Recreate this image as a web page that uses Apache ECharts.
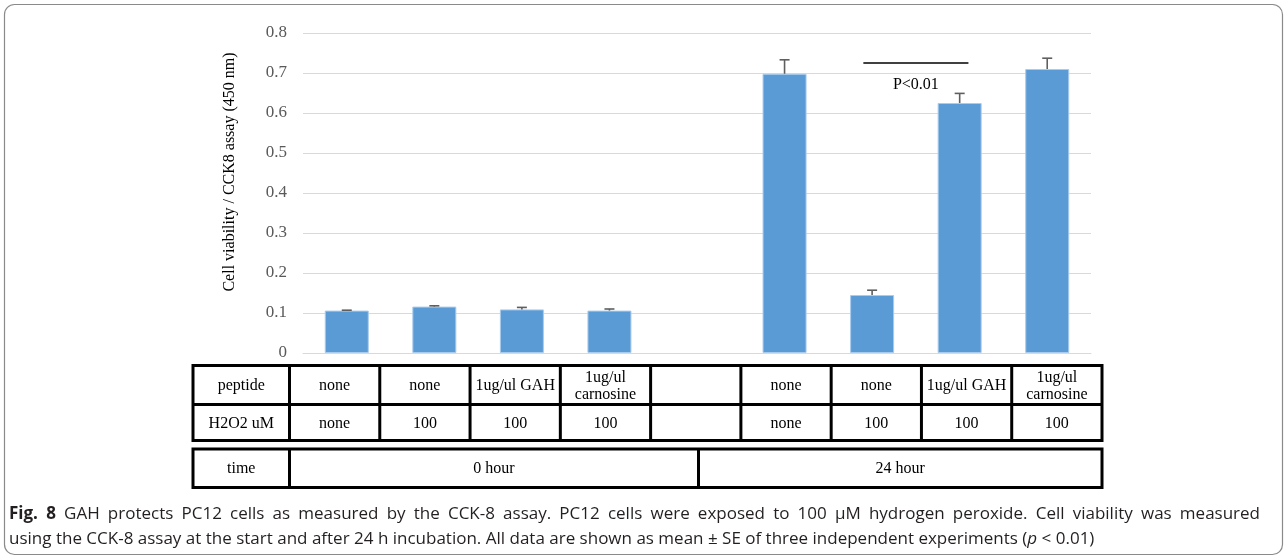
<!DOCTYPE html>
<html><head><meta charset="utf-8">
<script src="https://cdn.jsdelivr.net/npm/echarts@6/dist/echarts.min.js"></script>
<style>html,body{margin:0;padding:0;background:#fff}#c{width:1287px;height:559px}</style>
</head><body><div id="c"></div>
<script>
// ---------- data ----------
const categories = ['0h none/none', '0h none/100', '0h GAH/100', '0h carnosine/100', '', '24h none/none', '24h none/100', '24h GAH/100', '24h carnosine/100'];
const viability = [0.106, 0.116, 0.109, 0.106, null, 0.698, 0.145, 0.625, 0.710];
const stdErr = [0.001, 0.002, 0.005, 0.004, null, 0.035, 0.012, 0.024, 0.027];
const yMin = 0, yMax = 0.8, yStep = 0.1;
const yTitle = 'Cell viability / CCK8 assay (450 nm)';
const rowHeaders = ['peptide', 'H2O2 uM', 'time'];
const peptideRow = ['none', 'none', '1ug/ul GAH', '1ug/ul\ncarnosine', '', 'none', 'none', '1ug/ul GAH', '1ug/ul\ncarnosine'];
const h2o2Row = ['none', '100', '100', '100', '', 'none', '100', '100', '100'];
const timeRow = ['0 hour', '24 hour'];
const sigPair = [6, 7];
const sigLevel = 0.725;
const sigText = 'P<0.01';
const sigTextLevel = 0.671;
const captionBold = 'Fig. 8';
const captionLine1 = 'GAH protects PC12 cells as measured by the CCK-8 assay. PC12 cells were exposed to 100 \u03bcM hydrogen peroxide. Cell viability was measured';
const captionLine2a = 'using the CCK-8 assay at the start and after 24 h incubation. All data are shown as mean \u00b1 SE of three independent experiments (';
const captionItalic = 'p';
const captionLine2b = ' < 0.01)';

// ---------- layout / style ----------
const SERIF = '"Liberation Serif", "Times New Roman", serif';
const SANS = '"Open Sans", "Noto Sans", sans-serif';
const CAP_COLOR = '#231f20';
const CAP_FS = 17;
const CAP_X0 = 9, CAP_X1 = 1260;
const T = { left: 193, head: 289.5, right: 1102, y0: 365.5, y1: 404.5, y2: 440.5, y3: 449, y4: 487.5, mid: 698.5 };

const chart = echarts.init(document.getElementById('c'), null, { renderer: 'canvas' });

const graphics = [];
// outer frame
graphics.push({ type: 'rect', shape: { x: 4.5, y: 4.5, width: 1278, height: 550, r: 10 }, style: { fill: 'none', stroke: '#8a8a8a', lineWidth: 1.2 }, silent: true });
// y title
graphics.push({ type: 'text', x: 230, y: 172, rotation: Math.PI / 2, style: { text: yTitle, fontSize: 16, fontFamily: SERIF, fill: '#000', align: 'center', verticalAlign: 'middle' } });
// table
const nCol = peptideRow.length;
const colW = (T.right - T.head) / nCol;
const LS = { fill: 'none', stroke: '#000', lineWidth: 3 };
graphics.push({ type: 'rect', shape: { x: T.left, y: T.y0, width: T.right - T.left, height: T.y2 - T.y0 }, style: LS });
graphics.push({ type: 'line', shape: { x1: T.left, y1: T.y1, x2: T.right, y2: T.y1 }, style: LS });
for (let k = 0; k < nCol; k++) {
  const x = T.head + k * colW;
  graphics.push({ type: 'line', shape: { x1: x, y1: T.y0, x2: x, y2: T.y2 }, style: LS });
}
graphics.push({ type: 'rect', shape: { x: T.left, y: T.y3, width: T.right - T.left, height: T.y4 - T.y3 }, style: LS });
graphics.push({ type: 'line', shape: { x1: T.head, y1: T.y3, x2: T.head, y2: T.y4 }, style: LS });
graphics.push({ type: 'line', shape: { x1: T.mid, y1: T.y3, x2: T.mid, y2: T.y4 }, style: LS });
function cell(txt, cx, cy) {
  graphics.push({ type: 'text', x: cx, y: cy, style: { text: txt, fontSize: 16, fontFamily: SERIF, fill: '#000', align: 'center', verticalAlign: 'middle', lineHeight: 17 } });
}
const hx = (T.left + T.head) / 2;
const r1 = (T.y0 + T.y1) / 2 + 1, r2 = (T.y1 + T.y2) / 2 + 1, r3 = (T.y3 + T.y4) / 2 + 1;
cell(rowHeaders[0], hx, r1); cell(rowHeaders[1], hx, r2); cell(rowHeaders[2], hx, r3);
for (let k = 0; k < nCol; k++) {
  const cx = T.head + (k + 0.5) * colW;
  cell(peptideRow[k], cx, r1);
  cell(h2o2Row[k], cx, r2);
}
cell(timeRow[0], (T.head + T.mid) / 2, r3);
cell(timeRow[1], (T.mid + T.right) / 2, r3);

// caption line 1: justified word by word
const cv = document.createElement('canvas').getContext('2d');
function measure(txt, bold) { cv.font = (bold ? 'bold ' : '') + CAP_FS + 'px ' + SANS; return cv.measureText(txt).width; }
const words1 = captionBold.split(' ').map(t => ({ t, b: true })).concat(captionLine1.split(' ').map(t => ({ t, b: false })));
const sumW = words1.reduce((s, w) => s + measure(w.t, w.b), 0);
const gap = (CAP_X1 - CAP_X0 - sumW) / (words1.length - 1);
let cx1 = CAP_X0;
words1.forEach(w => {
  graphics.push({ type: 'text', x: cx1, y: 514, style: { text: w.t, fontSize: CAP_FS, fontFamily: SANS, fontWeight: w.b ? 'bold' : 'normal', fill: CAP_COLOR, align: 'left', verticalAlign: 'middle' } });
  cx1 += measure(w.t, w.b) + gap;
});
// caption line 2
graphics.push({ type: 'text', x: CAP_X0, y: 539, style: {
  text: '{n|' + captionLine2a + '}{i|' + captionItalic + '}{n|' + captionLine2b + '}', fill: CAP_COLOR, verticalAlign: 'middle', align: 'left',
  rich: {
    i: { fontStyle: 'italic', fontSize: CAP_FS, fontFamily: SANS, fill: CAP_COLOR },
    n: { fontSize: CAP_FS, fontFamily: SANS, fill: CAP_COLOR }
  } } });

const barData = viability.map(v => v == null ? '-' : v);
const errData = viability.map((v, i) => v == null ? null : [i, v, stdErr[i]]).filter(d => d);

chart.setOption({
  animation: false,
  backgroundColor: '#fff',
  grid: { left: 303, right: 196, top: 33, height: 320 },
  xAxis: {
    type: 'category', data: categories,
    axisLabel: { show: false }, axisTick: { show: false },
    axisLine: { show: true, lineStyle: { color: '#d9d9d9', width: 1 } }
  },
  yAxis: {
    type: 'value', min: yMin, max: yMax, interval: yStep,
    axisLine: { show: false }, axisTick: { show: false },
    axisLabel: { color: '#595959', fontFamily: SERIF, fontSize: 17, margin: 16, formatter: v => v === 0 ? '0' : v.toFixed(1) },
    splitLine: { lineStyle: { color: '#d9d9d9', width: 1 } }
  },
  series: [
    {
      type: 'bar', data: barData, barWidth: 44,
      itemStyle: { color: '#5b9bd5', borderColor: '#a9cbec', borderWidth: 1 }
    },
    {
      type: 'custom', data: errData, encode: { x: 0, y: 1 }, z: 3,
      renderItem: function (params, api) {
        const x = api.value(0), v = api.value(1), e = api.value(2);
        const p0 = api.coord([x, v]), p1 = api.coord([x, v + e]);
        const hw = 5;
        const st = { stroke: '#5f5f5f', lineWidth: 1.6 };
        return { type: 'group', children: [
          { type: 'line', shape: { x1: p0[0], y1: p0[1], x2: p1[0], y2: p1[1] }, style: st },
          { type: 'line', shape: { x1: p1[0] - hw, y1: p1[1], x2: p1[0] + hw, y2: p1[1] }, style: st }
        ] };
      }
    },
    {
      type: 'custom', data: [[sigPair[0], sigPair[1], sigLevel, sigTextLevel]], encode: { x: [0, 1], y: 2 }, z: 4,
      renderItem: function (params, api) {
        const a = api.coord([api.value(0), api.value(2)]);
        const b = api.coord([api.value(1), api.value(2)]);
        const band = api.size([1, 0])[0];
        const t = api.coord([api.value(0), api.value(3)]);
        const x1 = a[0] - 0.1 * band, x2 = b[0] + 0.1 * band;
        return { type: 'group', children: [
          { type: 'line', shape: { x1: x1, y1: a[1], x2: x2, y2: a[1] }, style: { stroke: '#000', lineWidth: 1.3 } },
          { type: 'text', x: (a[0] + b[0]) / 2, y: t[1], style: { text: sigText, fontSize: 16, fontFamily: SERIF, fill: '#000', align: 'center', verticalAlign: 'middle' } }
        ] };
      }
    }
  ],
  graphic: graphics
});
</script>
</body></html>
